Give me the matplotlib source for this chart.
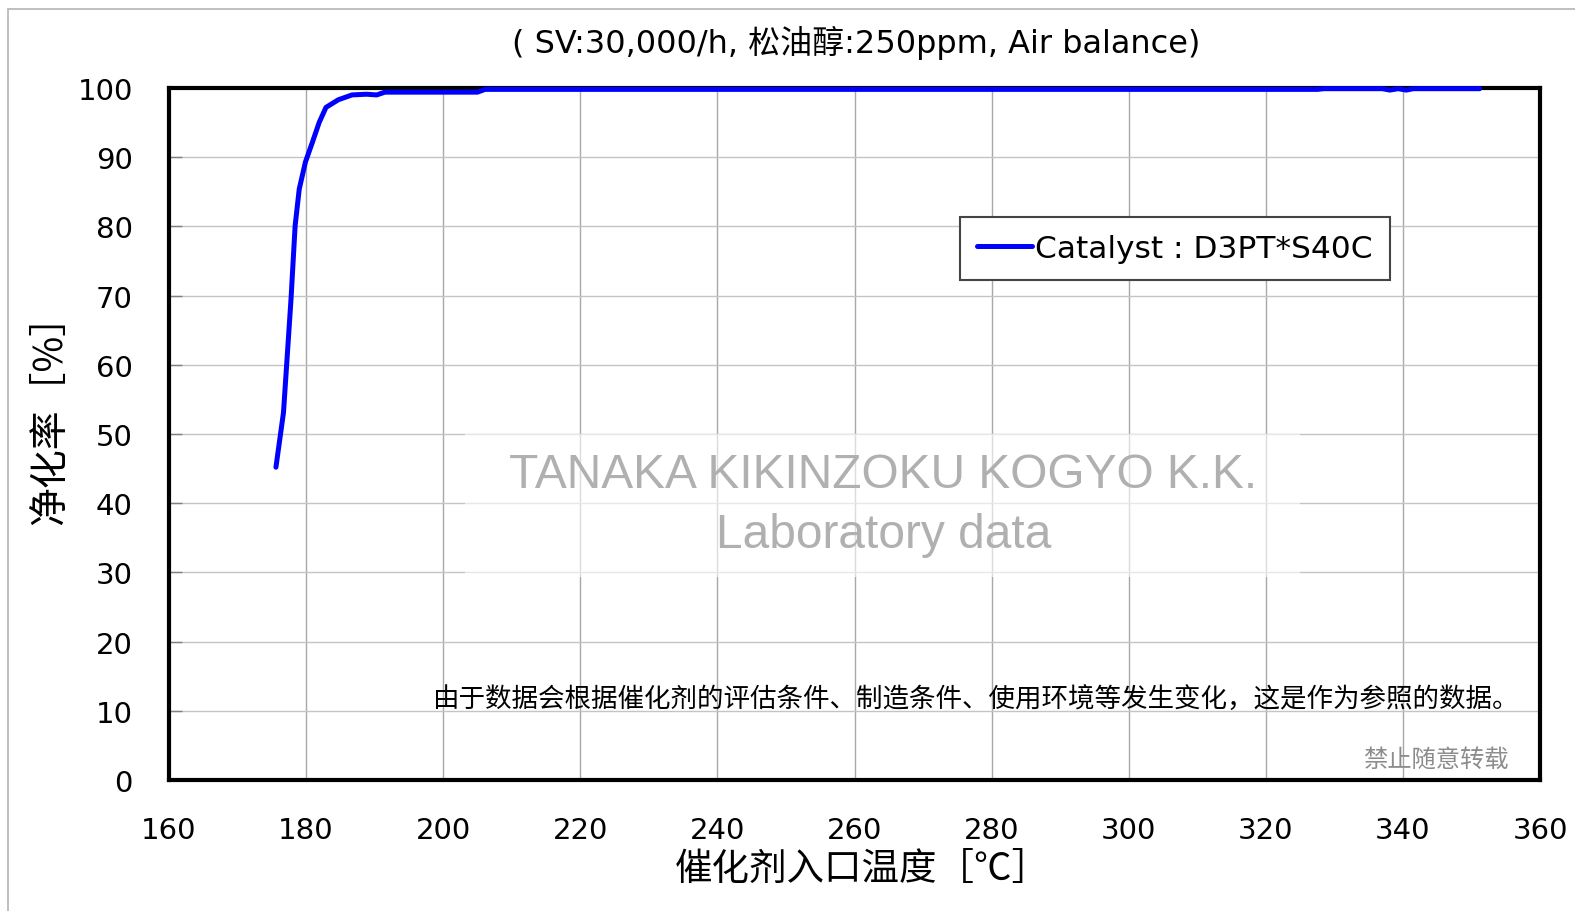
import matplotlib
matplotlib.use("Agg")
import matplotlib.pyplot as plt
from matplotlib.patches import Rectangle

# ---- data ----
temperature = [175.6, 176.7, 177.8, 178.4, 179.0, 179.9, 180.9, 181.9, 182.9,
               184.7, 186.7, 188.8, 190.3, 191.5, 205.0, 206.1, 327.5, 328.5,
               337.0, 338.1, 339.3, 340.5, 341.5, 351.2]
conversion = [45.2, 53.1, 69.5, 80.1, 85.4, 89.3, 92.1, 95.0, 97.2,
              98.3, 99.0, 99.1, 99.0, 99.4, 99.4, 99.8, 99.8, 99.9,
              99.9, 99.7, 99.9, 99.7, 99.9, 99.9]
x_ticks = [160, 180, 200, 220, 240, 260, 280, 300, 320, 340, 360]
y_ticks = [0, 10, 20, 30, 40, 50, 60, 70, 80, 90, 100]
series_label = "Catalyst : D3PT*S40C"
title = "( SV:30,000/h, 松油醇:250ppm, Air balance)"
x_label = "催化剂入口温度［℃］"
y_label = "净化率［%］"
note = "由于数据会根据催化剂的评估条件、制造条件、使用环境等发生变化，这是作为参照的数据。"
copy_note = "禁止随意转载"
watermark1 = "TANAKA KIKINZOKU KOGYO K.K."
watermark2 = "Laboratory data"

W, H = 1575, 912
fig = plt.figure(figsize=(W / 100, H / 100), dpi=100)
fig.patch.set_facecolor("white")

# outer frame (only left/top visible)
fig.patches.append(Rectangle((8 / W, -0.1), 1.2, 1 - 10 / H + 0.1,
                             transform=fig.transFigure, fill=False,
                             edgecolor="#b4b4b4", linewidth=1.2))

ax = fig.add_axes([169 / W, 1 - 781 / H, (1540 - 169) / W, (781 - 89) / H])
ax.set_xlim(160, 360)
ax.set_ylim(0, 100)
ax.set_xticks(x_ticks)
ax.set_yticks(y_ticks)
ax.set_xticklabels([str(v) for v in x_ticks], fontsize=21, family="DejaVu Sans")
ax.set_yticklabels([str(v) for v in y_ticks], fontsize=21, family="DejaVu Sans")
ax.tick_params(axis="both", direction="in", length=9, width=1, color="#808080")
ax.tick_params(axis="x", pad=26, length=0)
ax.tick_params(axis="y", pad=26)

ax.grid(axis="x", color="#a8a8a8", linewidth=1)
ax.grid(axis="y", color="#c4c4c4", linewidth=1)
ax.set_axisbelow(True)
for s in ax.spines.values():
    s.set_linewidth(3)
    s.set_color("black")

# watermark with a translucent white box
ax.add_patch(Rectangle((160 + (465 - 169) / 6.855, (781 - 578) / 6.92),
                       (1300 - 465) / 6.855, (578 - 435) / 6.92,
                       facecolor="white", edgecolor="none", alpha=0.6, zorder=1.5))
ax.text(0.521, (781 - 475) / 692, watermark1, transform=ax.transAxes,
        ha="center", va="center", fontsize=34.5, color="#b0b0b0",
        family="Liberation Sans", zorder=2)
ax.text(0.521, (781 - 535) / 692, watermark2, transform=ax.transAxes,
        ha="center", va="center", fontsize=34.5, color="#b0b0b0",
        family="Liberation Sans", zorder=2)

ax.plot(temperature, conversion, color="#0000ff", linewidth=3.6,
        solid_capstyle="round", solid_joinstyle="round", clip_on=False,
        zorder=5, label=series_label)

leg = ax.legend(loc="upper left", bbox_to_anchor=((960 - 169) / 1371, (781 - 218) / 692),
                frameon=True, fancybox=False, shadow=False,
                handlelength=1.75, handletextpad=0.1, borderpad=0.55,
                borderaxespad=0, prop={"family": "DejaVu Sans", "size": 22.5})
leg.get_frame().set_edgecolor("#444444")
leg.get_frame().set_linewidth(1.5)
leg.get_frame().set_alpha(1)

cjk = ["Noto Sans CJK SC", "DejaVu Sans"]
fig.text(856 / W, 1 - 43 / H, title, ha="center", va="center", fontsize=23,
         family=["DejaVu Sans", "Noto Sans CJK SC"])
fig.text(862 / W, 1 - 870 / H, x_label, ha="center", va="center", fontsize=27,
         family=cjk)
fig.text(50 / W, 1 - 410 / H, y_label, ha="center", va="center", fontsize=28,
         rotation=90, family=cjk)
fig.text(1519 / W, 1 - 700 / H, note, ha="right", va="center", fontsize=19.1,
         family=cjk)
fig.text(1509 / W, 1 - 760 / H, copy_note, ha="right", va="center", fontsize=17.5,
         family=cjk, color="#8c8c8c")

fig.savefig("out.png", dpi=100, facecolor="white")
